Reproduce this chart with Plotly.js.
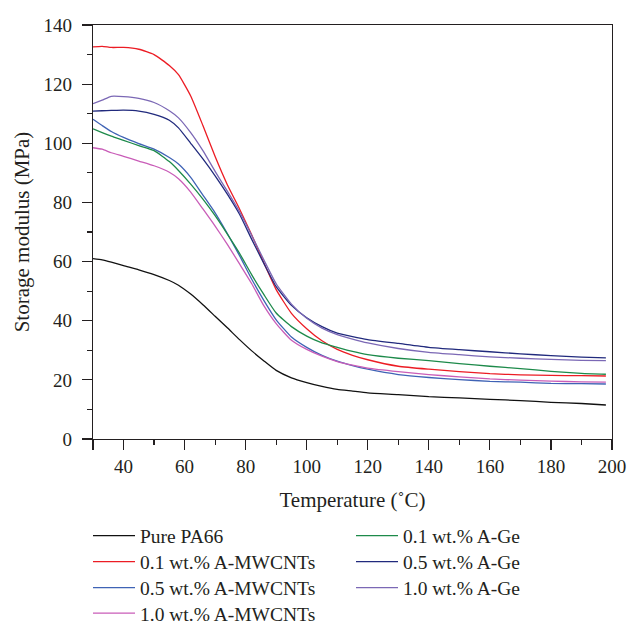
<!DOCTYPE html>
<html>
<head>
<meta charset="utf-8">
<script src="https://cdn.plot.ly/plotly-3.0.1.min.js"></script>
<style>html,body{margin:0;padding:0;background:#fff;}#chart{width:629px;height:625px;}</style>
</head>
<body>
<div id="chart"></div>
<script>
// ---- data ----
const temperature = [30, 33, 36, 40, 45, 50, 55, 58, 62, 66, 70, 74, 78, 82, 86, 90, 95, 100, 105, 110, 115, 120, 130, 140, 150, 160, 170, 180, 190, 198];
const purePA66   = [61, 60.6, 59.8, 58.6, 57.2, 55.6, 53.6, 52, 49, 45.4, 41.5, 37.6, 33.6, 29.8, 26.4, 23.2, 20.7, 19.1, 17.8, 16.8, 16.2, 15.6, 15, 14.3, 13.9, 13.4, 13, 12.4, 12, 11.5];
const mwcnt01    = [132.6, 132.8, 132.4, 132.4, 131.8, 130, 126.3, 123.2, 116, 106, 95.5, 86, 77.8, 69, 59.5, 50.5, 42.5, 37.3, 33.2, 30.3, 28.3, 26.8, 24.6, 23.6, 22.8, 22.1, 21.7, 21.5, 21.4, 21.3];
const mwcnt05    = [108.1, 106, 104, 102, 99.9, 98, 95.2, 93, 88.5, 82.5, 76.5, 69.5, 62, 54, 46.8, 40.3, 34.5, 31, 28.3, 26.3, 24.8, 23.6, 21.8, 20.8, 20.1, 19.5, 19.2, 18.8, 18.7, 18.6];
const mwcnt10    = [98.5, 98, 96.8, 95.6, 94, 92.4, 90.2, 88, 83.5, 77.8, 72, 65.8, 59.2, 52.5, 45, 39, 33.4, 30.3, 28, 26.2, 25, 24, 22.8, 21.8, 21, 20.3, 19.9, 19.6, 19.3, 19.2];
const ge01       = [104.9, 103.6, 102.4, 101, 99.2, 97.5, 93.8, 90.8, 86.2, 81.1, 75.5, 69.3, 62.8, 55.5, 48.8, 42.6, 38, 34.8, 32.5, 31, 29.6, 28.5, 27.3, 26.5, 25.5, 24.6, 23.8, 22.9, 22.2, 21.9];
const ge05       = [110.9, 111, 111.1, 111.2, 110.9, 109.8, 107.8, 105.2, 100, 94.7, 89, 82.8, 76, 67.5, 59.3, 51.5, 45.2, 41, 38, 35.8, 34.6, 33.6, 32.3, 31, 30.2, 29.5, 28.8, 28.2, 27.7, 27.4];
const ge10       = [113.4, 114.6, 115.9, 115.8, 115.2, 113.8, 111, 108.6, 103.6, 97.5, 90.5, 83.8, 76.8, 68.8, 60.5, 52.5, 45.6, 40.8, 37.5, 35.3, 33.8, 32.5, 30.6, 29.3, 28.5, 27.8, 27.3, 26.9, 26.6, 26.5];

const seriesNames = ['Pure PA66', '0.1 wt.% A-MWCNTs', '0.5 wt.% A-MWCNTs', '1.0 wt.% A-MWCNTs', '0.1 wt.% A-Ge', '0.5 wt.% A-Ge', '1.0 wt.% A-Ge'];
const seriesValues = [purePA66, mwcnt01, mwcnt05, mwcnt10, ge01, ge05, ge10];
const seriesColors = ['#111111', '#ec1c24', '#3f63b5', '#c95db8', '#1d8a4a', '#212a7d', '#7b68b5'];

const xTickVals = [30, 40, 60, 80, 100, 120, 140, 160, 180, 200];
const xTickText = ['', '40', '60', '80', '100', '120', '140', '160', '180', '200'];
const xMinorVals = [50, 70, 90, 110, 130, 150, 170, 190];
const yTickVals = [0, 20, 40, 60, 80, 100, 120, 140];
const yTickText = ['0', '20', '40', '60', '80', '100', '120', '140'];
const yMinorVals = [10, 30, 50, 70, 90, 110, 130];

// ---- layout helpers ----
const W = 629, H = 625;
const M = {l: 93, r: 17, t: 25, b: 186};
const pw = W - M.l - M.r, ph = H - M.t - M.b;
const FONT = '"Liberation Serif", "Times New Roman", serif';
const TXT = '#231f20';
function px2x(px) { return (px - M.l) / pw; }
function py2y(py) { return (H - M.b - py) / ph; }

// legend slots: column left edges and row centres (pixels)
const legendCols = [88, 351];
const legendRowCenters = [535.5, 561.5, 587.5, 613];
const slots = [[0,0],[0,1],[0,2],[0,3],[1,0],[1,1],[1,2]];

const traces = seriesValues.map((vals, i) => ({
  type: 'scatter', mode: 'lines',
  x: temperature, y: vals, name: seriesNames[i],
  line: {color: seriesColors[i], width: 1.3, shape: 'spline', smoothing: 0.5},
  legend: i === 0 ? 'legend' : 'legend' + (i + 1),
  hoverinfo: 'skip'
}));

const layout = {
  width: W, height: H,
  margin: Object.assign({autoexpand: false}, M),
  paper_bgcolor: '#fff', plot_bgcolor: '#fff',
  font: {family: FONT, color: TXT, size: 19},
  xaxis: {
    range: [30, 200], showgrid: false, zeroline: false,
    showline: true, mirror: true, linecolor: '#231f20', linewidth: 1.3,
    ticks: 'outside', ticklen: 10, tickwidth: 1.2, tickcolor: '#231f20',
    tickmode: 'array', tickvals: xTickVals, ticktext: xTickText,
    tickfont: {family: FONT, size: 19, color: TXT},
    minor: {tickmode: 'array', tickvals: xMinorVals, ticks: 'outside', ticklen: 5, tickwidth: 1.2, tickcolor: '#231f20', showgrid: false},
    title: {text: 'Temperature (˚C)', font: {family: FONT, size: 21, color: TXT}, standoff: 16}
  },
  yaxis: {
    range: [0, 140], showgrid: false, zeroline: false,
    showline: true, mirror: true, linecolor: '#231f20', linewidth: 1.3,
    ticks: 'outside', ticklen: 10, tickwidth: 1.2, tickcolor: '#231f20',
    tickmode: 'array', tickvals: yTickVals, ticktext: yTickText,
    ticklabelstandoff: 6,
    tickfont: {family: FONT, size: 19, color: TXT},
    minor: {tickmode: 'array', tickvals: yMinorVals, ticks: 'outside', ticklen: 5, tickwidth: 1.2, tickcolor: '#231f20', showgrid: false},
    title: {text: 'Storage modulus (MPa)', font: {family: FONT, size: 21, color: TXT}, standoff: 8}
  },
  showlegend: true
};

slots.forEach((s, i) => {
  const key = i === 0 ? 'legend' : 'legend' + (i + 1);
  layout[key] = {
    x: px2x(legendCols[s[0]]), xanchor: 'left',
    y: py2y(legendRowCenters[s[1]] - 19), yanchor: 'top',
    bgcolor: 'rgba(0,0,0,0)', borderwidth: 0, itemwidth: 42,
    font: {family: FONT, size: 19.5, color: TXT},
    itemclick: false, itemdoubleclick: false
  };
});

Plotly.newPlot('chart', traces, layout, {staticPlot: true, displayModeBar: false});
</script>
</body>
</html>
